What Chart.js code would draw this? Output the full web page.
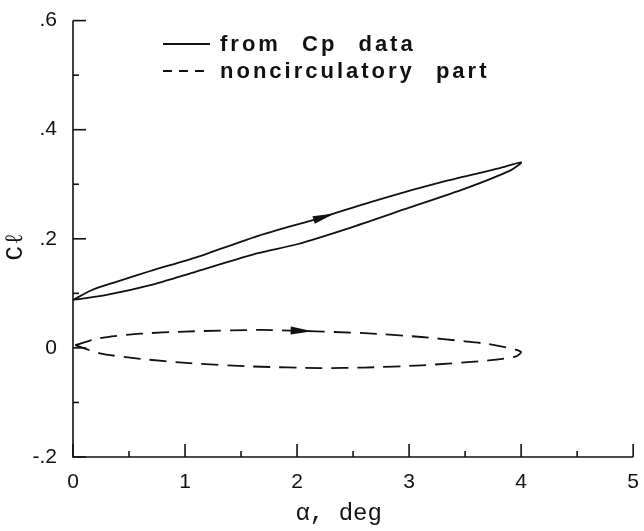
<!DOCTYPE html>
<html><head><meta charset="utf-8">
<script src="https://cdn.jsdelivr.net/npm/chart.js@4/dist/chart.umd.min.js"></script>
<style>html,body{margin:0;padding:0;background:#fff}#wrap{width:644px;height:531px;position:relative}</style>
</head><body><div id="wrap"><canvas id="c"></canvas></div>
<script>
// ---- data ----
const xTickValues = [0, 1, 2, 3, 4, 5];
const xTickLabels = ['0', '1', '2', '3', '4', '5'];
const yTickValues = [-0.2, 0, 0.2, 0.4, 0.6];
const yTickLabels = ['-.2', '0', '.2', '.4', '.6'];

// "from Cp data" loop: upstroke (upper branch) then downstroke (lower branch)
const cpUpX = [0, 0.18, 0.4, 0.69, 1.1, 1.66, 2.2, 2.73, 3.33, 3.8, 4.0];
const cpUpY = [0.088, 0.107, 0.122, 0.141, 0.166, 0.206, 0.238, 0.272, 0.306, 0.329, 0.340];
const cpDnX = [3.91, 3.5, 3.0, 2.5, 2.0, 1.66, 1.1, 0.69, 0.3, 0];
const cpDnY = [0.326, 0.292, 0.257, 0.222, 0.190, 0.174, 0.140, 0.115, 0.097, 0.088];

// "noncirculatory part" loop
const ncUpX = [0.02, 0.24, 0.6, 1.0, 1.66, 2.05, 2.6, 3.11, 3.5, 3.71, 3.95, 4.0];
const ncUpY = [0.005, 0.018, 0.026, 0.030, 0.033, 0.031, 0.027, 0.020, 0.012, 0.007, -0.003, -0.008];
const ncDnX = [3.95, 3.71, 3.11, 2.6, 2.22, 1.6, 1.04, 0.6, 0.24, 0.02];
const ncDnY = [-0.016, -0.023, -0.032, -0.036, -0.037, -0.034, -0.028, -0.020, -0.010, 0.005];

// arrowheads: [x, y, xNext, yNext] direction of travel
const arrowCp = [2.25, 0.241, 2.73, 0.272];
const arrowNc = [2.05, 0.031, 2.6, 0.027];

const seriesLabels = ['from Cp data', 'noncirculatory part'];

function pts(xs, ys) { return xs.map((x, i) => ({ x: x, y: ys[i] })); }
const cpData = pts(cpUpX, cpUpY).concat(pts(cpDnX, cpDnY));
const ncData = pts(ncUpX, ncUpY).concat(pts(ncDnX, ncDnY));

const INK = '#111';

const drawPlugin = {
  id: 'sciAxes',
  afterDatasetsDraw(chart) {
    const { ctx, chartArea: a, scales: { x, y } } = chart;
    ctx.save();
    ctx.strokeStyle = INK;
    ctx.fillStyle = INK;
    ctx.lineWidth = 1.6;
    // axes lines
    ctx.beginPath();
    ctx.moveTo(a.left, y.getPixelForValue(0.6));
    ctx.lineTo(a.left, a.bottom);
    ctx.lineTo(x.getPixelForValue(5), a.bottom);
    ctx.stroke();
    // y ticks (inside)
    y.ticks.forEach(t => {
      const major = yTickValues.some(v => Math.abs(v - t.value) < 1e-6);
      const py = y.getPixelForValue(t.value);
      ctx.beginPath();
      ctx.moveTo(a.left, py);
      ctx.lineTo(a.left + (major ? 13 : 6), py);
      ctx.stroke();
    });
    // x ticks (inside)
    x.ticks.forEach(t => {
      const major = xTickValues.some(v => Math.abs(v - t.value) < 1e-6);
      const px = x.getPixelForValue(t.value);
      ctx.beginPath();
      ctx.moveTo(px, a.bottom);
      ctx.lineTo(px, a.bottom - (major ? 13 : 6));
      ctx.stroke();
    });
    // arrowheads
    [arrowCp, arrowNc].forEach(ar => {
      const px = x.getPixelForValue(ar[0]), py = y.getPixelForValue(ar[1]);
      const qx = x.getPixelForValue(ar[2]), qy = y.getPixelForValue(ar[3]);
      const ang = Math.atan2(qy - py, qx - px);
      ctx.save();
      ctx.translate(px, py);
      ctx.rotate(ang);
      ctx.beginPath();
      ctx.moveTo(10, 0);
      ctx.lineTo(-12, -4);
      ctx.lineTo(-12, 4);
      ctx.closePath();
      ctx.fill();
      ctx.restore();
    });
    // legend
    const lx0 = 163, lx1 = 210, ly = [44, 71];
    ctx.font = 'bold 22px "Liberation Sans", Arial, sans-serif';
    ctx.textBaseline = 'middle';
    ctx.textAlign = 'left';
    try { ctx.letterSpacing = '3px'; ctx.wordSpacing = '12px'; } catch (e) {}
    chart.data.datasets.forEach((ds, i) => {
      ctx.beginPath();
      ctx.setLineDash(ds.borderDash && ds.borderDash.length ? [9, 7] : []);
      ctx.lineWidth = 1.8;
      ctx.moveTo(lx0, ly[i]);
      ctx.lineTo(lx1, ly[i]);
      ctx.stroke();
      ctx.setLineDash([]);
      ctx.fillText(ds.label, 220, ly[i] + 1);
    });
    ctx.restore();
  }
};

new Chart(document.getElementById('c'), {
  type: 'scatter',
  data: {
    datasets: [
      { label: seriesLabels[0], data: cpData, showLine: true, borderColor: INK, borderWidth: 1.8,
        pointRadius: 0, tension: 0.25, fill: false },
      { label: seriesLabels[1], data: ncData, showLine: true, borderColor: INK, borderWidth: 1.8,
        borderDash: [17, 9], pointRadius: 0, tension: 0.25, fill: false }
    ]
  },
  options: {
    responsive: true,
    maintainAspectRatio: false,
    animation: false,
    layout: { padding: { top: 12, right: 9, left: 0, bottom: 0 } },
    plugins: { legend: { display: false }, tooltip: { enabled: false } },
    scales: {
      x: {
        type: 'linear', min: 0, max: 5,
        afterFit: s => { s.height = 74; },
        grid: { display: false }, border: { display: false },
        ticks: {
          stepSize: 0.5, padding: 5, color: INK,
          font: { family: '"Liberation Sans", Arial, sans-serif', size: 21 },
          callback: v => { const i = xTickValues.findIndex(t => Math.abs(t - v) < 1e-6); return i >= 0 ? xTickLabels[i] : ''; },
          maxRotation: 0, autoSkip: false
        },
        title: { display: true, text: 'α, deg  ', color: INK, padding: { top: 0, bottom: 5 },
          font: { family: '"Liberation Mono", "DejaVu Sans Mono", monospace', size: 24, lineHeight: 1 } }
      },
      y: {
        type: 'linear', min: -0.2, max: 0.6,
        afterFit: s => { s.width = 73; },
        grid: { display: false }, border: { display: false },
        ticks: {
          stepSize: 0.1, padding: 8, color: INK,
          font: { family: '"Liberation Sans", Arial, sans-serif', size: 21 },
          callback: v => { const i = yTickValues.findIndex(t => Math.abs(t - v) < 1e-6); return i >= 0 ? yTickLabels[i] : ''; },
          autoSkip: false
        },
        title: { display: true, text: 'Cℓ ', color: INK, padding: { top: 4, bottom: 0 },
          font: { family: '"Liberation Mono", "DejaVu Sans Mono", monospace', size: 24, lineHeight: 1 } }
      }
    }
  },
  plugins: [drawPlugin]
});
</script>
</body></html>
